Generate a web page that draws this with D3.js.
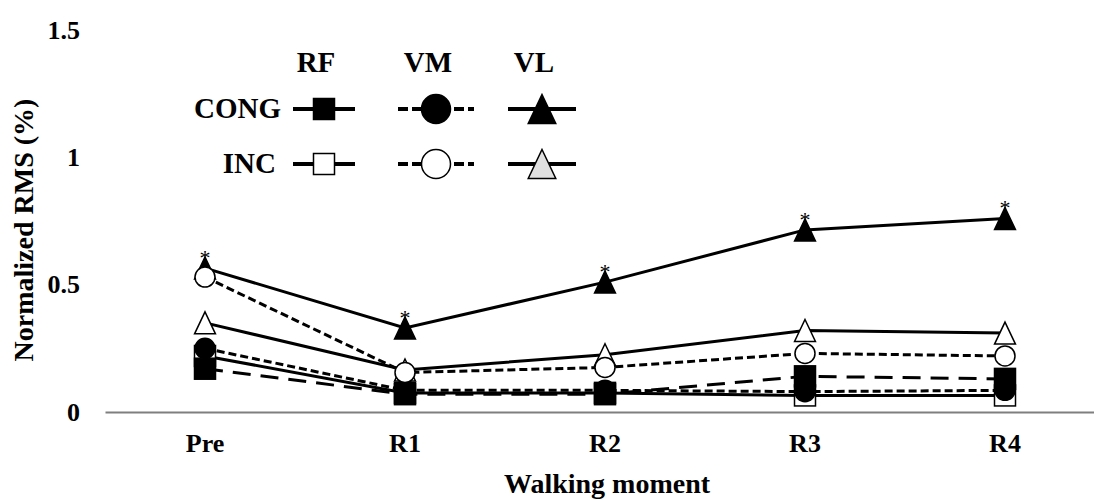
<!DOCTYPE html>
<html><head><meta charset="utf-8">
<script src="https://cdn.jsdelivr.net/npm/d3@7"></script>
<style>
html,body{margin:0;padding:0;background:#fff;}
svg{display:block;font-family:"Liberation Serif","Times New Roman",serif;font-weight:bold;}
</style></head>
<body><svg id="c" width="1094" height="500"></svg>
<script>
const categories = ["Pre","R1","R2","R3","R4"];
const yTicks = [0, 0.5, 1, 1.5];
const rfCong = [0.17, 0.07, 0.07, 0.14, 0.13];
const rfInc  = [0.22, 0.075, 0.075, 0.065, 0.065];
const vmCong = [0.25, 0.085, 0.085, 0.08, 0.085];
const vmInc  = [0.53, 0.155, 0.175, 0.23, 0.22];
const vlCong = [0.565, 0.33, 0.51, 0.715, 0.76];
const vlInc  = [0.35, 0.165, 0.225, 0.32, 0.31];
const vlCongSig = ["*","*","*","*","*"];
const legendCols = ["RF","VM","VL"];
const legendRows = ["CONG","INC"];

const FONT = "Liberation Serif";
const svg = d3.select("#c");
const x = d3.scaleBand().domain(categories).range([105, 1105]);
const y = d3.scaleLinear().domain([0, 1.5]).range([412, 30]);
const cx = c => x(c) + x.bandwidth()/2;

// axes
const xa = svg.append("g").attr("transform","translate(0,412)")
  .call(d3.axisBottom(x).tickSize(0).tickPadding(22).tickSizeOuter(0))
  .attr("font-family",FONT).attr("font-size",26).attr("font-weight","bold");
xa.select(".domain").attr("stroke","#7f7f7f").attr("stroke-width",2);
xa.selectAll("text").attr("fill","#000");

const ya = svg.append("g").attr("transform","translate(105,0)")
  .call(d3.axisLeft(y).tickValues(yTicks).tickFormat(d=>String(d)).tickSize(0).tickPadding(25))
  .attr("font-family",FONT).attr("font-size",26).attr("font-weight","bold");
ya.select(".domain").remove();
ya.selectAll("text").attr("fill","#000");

svg.append("text").attr("x",607).attr("y",493).attr("text-anchor","middle")
  .attr("font-size",28).text("Walking moment");
svg.append("text").attr("transform","translate(33,230) rotate(-90)").attr("text-anchor","middle")
  .attr("font-size",28).text("Normalized RMS (%)");

// series (drawing order bottom -> top)
const series = [
  {name:"VL CONG", vals:vlCong, dash:null, shape:"tri", fill:"#000"},
  {name:"RF INC",  vals:rfInc,  dash:null, shape:"sq",  fill:"#fff"},
  {name:"VM CONG", vals:vmCong, dash:"8,4", shape:"circ", fill:"#000"},
  {name:"RF CONG", vals:rfCong, dash:"18,10", shape:"sq", fill:"#000"},
  {name:"VL INC",  vals:vlInc,  dash:null, shape:"tri", fill:"#fff"},
  {name:"VM INC",  vals:vmInc,  dash:"8,4", shape:"circ", fill:"#fff"}
];
const line = d3.line().x((d,i)=>cx(categories[i])).y(d=>y(d));
series.forEach(s=>{
  svg.append("path").attr("d",line(s.vals)).attr("fill","none")
    .attr("stroke","#000").attr("stroke-width",3)
    .attr("stroke-dasharray",s.dash);
});
function marker(g, shape, px, py, size, fill){
  if(shape==="sq"){
    g.append("rect").attr("x",px-size/2).attr("y",py-size/2).attr("width",size).attr("height",size)
      .attr("fill",fill).attr("stroke","#000").attr("stroke-width",1.5);
  } else if(shape==="circ"){
    g.append("circle").attr("cx",px).attr("cy",py).attr("r",size/2)
      .attr("fill",fill).attr("stroke","#000").attr("stroke-width",1.5);
  } else {
    const h=size, w=size*0.95;
    g.append("path").attr("d",`M${px},${py-h/2}L${px+w/2},${py+h/2}L${px-w/2},${py+h/2}Z`)
      .attr("fill",fill).attr("stroke","#000").attr("stroke-width",1.5);
  }
}
series.forEach(s=>{
  const g = svg.append("g");
  s.vals.forEach((v,i)=>{
    const sz = s.shape==="sq"?21:(s.shape==="circ"?20:22);
    marker(g, s.shape, cx(categories[i]), y(v), sz, s.fill);
  });
});
// significance asterisks
vlCong.forEach((v,i)=>{
  svg.append("text").attr("x",cx(categories[i])).attr("y",y(v)-3)
    .attr("text-anchor","middle").attr("font-size",22).attr("font-weight","normal").text(vlCongSig[i]);
});

// legend
const colX = {RF:324, VM:436, VL:542};
const colHalf = {RF:31, VM:38, VL:34};
const rowY = {CONG:109, INC:164};
legendCols.forEach(c=>{
  svg.append("text").attr("x",colX[c]-8).attr("y",72).attr("text-anchor","middle")
    .attr("font-size",29).text(c);
});
legendRows.forEach(r=>{
  svg.append("text").attr("x",r==="CONG"?281:276).attr("y",rowY[r]+9).attr("text-anchor","end")
    .attr("font-size",29).text(r);
});
const legendItems = [
  {c:"RF",r:"CONG",shape:"sq",fill:"#000",dash:null},
  {c:"VM",r:"CONG",shape:"circ",fill:"#000",dash:"10,4"},
  {c:"VL",r:"CONG",shape:"tri",fill:"#000",dash:null},
  {c:"RF",r:"INC",shape:"sq",fill:"#fff",dash:null},
  {c:"VM",r:"INC",shape:"circ",fill:"#fff",dash:"10,4"},
  {c:"VL",r:"INC",shape:"tri",fill:"#e0e0e0",dash:null}
];
legendItems.forEach(it=>{
  const px = colX[it.c], py = rowY[it.r], hw = colHalf[it.c];
  svg.append("line").attr("x1",px-hw).attr("x2",px+hw).attr("y1",py).attr("y2",py)
    .attr("stroke","#000").attr("stroke-width",4).attr("stroke-dasharray",it.dash);
  const sz = it.shape==="sq"?21:29;
  marker(svg, it.shape, px, py, sz, it.fill);
});
</script></body></html>
